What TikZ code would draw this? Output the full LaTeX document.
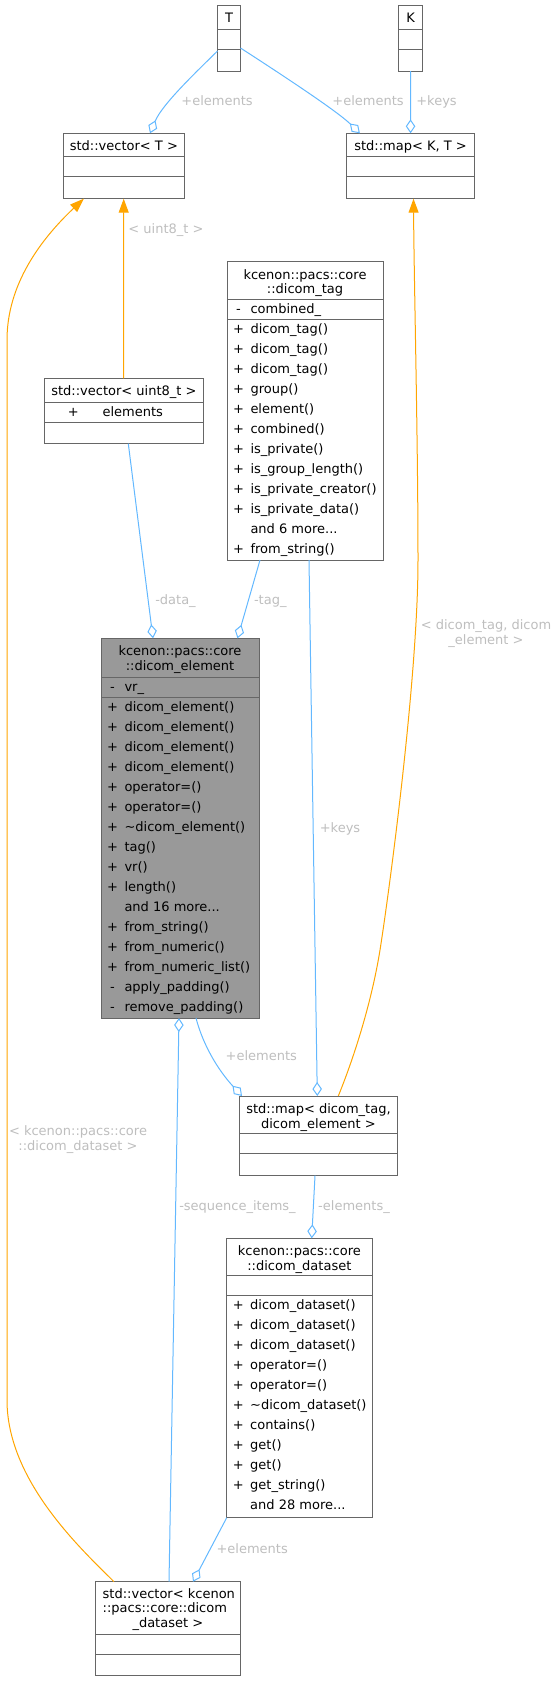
\documentclass[tikz,border=0pt]{standalone}
\usepackage{fontspec}
\setmainfont{DejaVu Sans}
\usetikzlibrary{arrows.meta,calc}
\definecolor{edgeblue}{HTML}{63B8FF}
\definecolor{edgeorange}{HTML}{FFA500}
\definecolor{lblgray}{HTML}{BEBEBE}
\definecolor{boxborder}{HTML}{666666}
\definecolor{curfill}{HTML}{999999}
\newcommand\clsbox[6]{\node[classbox, fill=#6, minimum width={(#4-#2)*1pt}, minimum height={(#5-#3)*1pt}, anchor=north west] (#1) at (#2,#3) {};}
\newcommand\hsep[2]{\draw[sepline] ($(#1.north west)+(0,#2)$) -- ($(#1.north east)+(0,#2)$);}
\newcommand\mdots{...}
\begin{document}
\begin{tikzpicture}[x=1pt,y=-1pt, font=\fontsize{13}{15}\selectfont,
  classbox/.style={draw=boxborder, line width=1pt, inner sep=0pt, outer sep=0pt},
  sepline/.style={draw=boxborder, line width=1pt},
  txt/.style={inner sep=0pt, outer sep=0pt, anchor=base},
  txtl/.style={inner sep=0pt, outer sep=0pt, anchor=base west},
  lbl/.style={inner sep=0pt, outer sep=0pt, anchor=base, text=lblgray},
  usage/.style={draw=edgeblue, line width=1pt, -{Diamond[open,length=14pt,width=9.5pt]}},
  usagerev/.style={draw=edgeblue, line width=1pt, {Diamond[open,length=14pt,width=9.5pt]}-},
  tmpl/.style={draw=edgeorange, line width=1pt, -{Triangle[length=14pt,width=10pt]}},
]
\useasboundingbox (0,0) rectangle (559,1681);

% ---------- boxes ----------
\clsbox{T}{217.5}{5}{240.5}{71}{white}
\hsep{T}{24}\hsep{T}{44}
\node[txt] (T-h) at ($(T.north)+(0,17)$) {T};

\clsbox{K}{398.6}{5}{422.6}{71}{white}
\hsep{K}{24}\hsep{K}{44}
\node[txt] (K-h) at ($(K.north)+(0,17)$) {K};

\clsbox{vecT}{63}{133.3}{184.7}{198.7}{white}
\hsep{vecT}{23.4}\hsep{vecT}{43.4}
\node[txt] (vecT-h) at ($(vecT.north)+(0,17)$) {std::vector< T >};

\clsbox{mapKT}{346.9}{133.3}{474.2}{198.7}{white}
\hsep{mapKT}{23.4}\hsep{mapKT}{43.4}
\node[txt] (mapKT-h) at ($(mapKT.north)+(0,17)$) {std::map< K, T >};

\clsbox{vecU8}{44.6}{378.3}{203.2}{443.7}{white}
\hsep{vecU8}{23.7}\hsep{vecU8}{43.7}
\node[txt] (vecU8-h) at ($(vecU8.north)+(0,17)$) {std::vector< uint8\_t >};
\node[txt] (vecU8-s) at ($(vecU8.north west)+(28.7,37.9)$) {+};
\node[txtl] (vecU8-m) at ($(vecU8.north west)+(58,37.9)$) {elements};

\clsbox{tag}{227}{261.5}{383}{560}{white}
\hsep{tag}{38}\hsep{tag}{58}
\node[txt] (tag-h1) at ($(tag.north)+(0,17.5)$) {kcenon::pacs::core};
\node[txt] (tag-h2) at ($(tag.north)+(0,32.2)$) {::dicom\_tag};
\node[txt] (tag-as) at ($(tag.north west)+(11.5,52.2)$) {-};
\node[txtl] (tag-a) at ($(tag.north west)+(23.5,52.2)$) {combined\_};
\foreach \s/\t [count=\i from 0] in {+/dicom\_tag(),+/dicom\_tag(),+/dicom\_tag(),+/group(),+/element(),+/combined(),+/is\_private(),+/is\_group\_length(),+/is\_private\_creator(),+/is\_private\_data(),/and 6 more\mdots,+/from\_string()}{
  \node[txt] (tag-s\i) at ($(tag.north west)+(11.5,72.2+20*\i)$) {\s};
  \node[txtl] (tag-m\i) at ($(tag.north west)+(23.5,72.2+20*\i)$) {\t};
}

\clsbox{elem}{101}{638.3}{259}{1018}{curfill}
\hsep{elem}{38.7}\hsep{elem}{58.7}
\node[txt] (elem-h1) at ($(elem.north)+(0,17.6)$) {kcenon::pacs::core};
\node[txt] (elem-h2) at ($(elem.north)+(0,32.3)$) {::dicom\_element};
\node[txt] (elem-as) at ($(elem.north west)+(11.5,52.9)$) {-};
\node[txtl] (elem-a) at ($(elem.north west)+(23.5,52.9)$) {vr\_};
\foreach \s/\t [count=\i from 0] in {+/dicom\_element(),+/dicom\_element(),+/dicom\_element(),+/dicom\_element(),+/operator=(),+/operator=(),+/\textasciitilde dicom\_element(),+/tag(),+/vr(),+/length(),/and 16 more\mdots,+/from\_string(),+/from\_numeric(),+/from\_numeric\_list(),-/apply\_padding(),-/remove\_padding()}{
  \node[txt] (elem-s\i) at ($(elem.north west)+(11.5,72.9+20*\i)$) {\s};
  \node[txtl] (elem-m\i) at ($(elem.north west)+(23.5,72.9+20*\i)$) {\t};
}

\clsbox{mapDT}{239.3}{1096}{397.6}{1175.7}{white}
\hsep{mapDT}{37.3}\hsep{mapDT}{57.3}
\node[txt] (mapDT-h1) at ($(mapDT.north)+(0,17.5)$) {std::map< dicom\_tag,};
\node[txt] (mapDT-h2) at ($(mapDT.north)+(0,32)$) {dicom\_element >};

\clsbox{ds}{226.7}{1238.3}{372}{1517.7}{white}
\hsep{ds}{37.4}\hsep{ds}{56.7}
\node[txt] (ds-h1) at ($(ds.north)+(0,17.5)$) {kcenon::pacs::core};
\node[txt] (ds-h2) at ($(ds.north)+(0,32)$) {::dicom\_dataset};
\foreach \s/\t [count=\i from 0] in {+/dicom\_dataset(),+/dicom\_dataset(),+/dicom\_dataset(),+/operator=(),+/operator=(),+/\textasciitilde dicom\_dataset(),+/contains(),+/get(),+/get(),+/get\_string(),/and 28 more\mdots}{
  \node[txt] (ds-s\i) at ($(ds.north west)+(11.5,70.9+20*\i)$) {\s};
  \node[txtl] (ds-m\i) at ($(ds.north west)+(23.5,70.9+20*\i)$) {\t};
}

\clsbox{vecDS}{95}{1581.7}{240.7}{1675.7}{white}
\hsep{vecDS}{52.3}\hsep{vecDS}{72.3}
\node[txtl] (vecDS-h1) at ($(vecDS.north west)+(7.7,16.7)$) {std::vector< kcenon};
\node[txtl] (vecDS-h2) at ($(vecDS.north west)+(7.7,31)$) {::pacs::core::dicom};
\node[txt] (vecDS-h3) at ($(vecDS.north)+(0,45.3)$) {\_dataset >};

% ---------- connectors ----------
\draw[usage] ($(T.north west)+(0,46)$) .. controls (192,76) and (162,105) .. ($(vecT.north west)+(87,0)$);
\node[lbl] (l-e1) at (217,105) {+elements};

\draw[usage] ($(T.north east)+(0,43)$) .. controls (290,80) and (338,112) .. ($(mapKT.north west)+(13,0)$);
\node[lbl] (l-e2) at (368,105) {+elements};

\draw[usage] (K.south) -- (mapKT.north);
\node[lbl] (l-e3) at (436.5,105) {+keys};

\draw[tmpl] ($(vecU8.north west)+(79.1,0)$) -- ($(vecT.south west)+(60.7,0)$);
\node[lbl] (l-e4) at (166,233) {< uint8\_t >};

\draw[tmpl] ($(mapDT.north west)+(99,0)$) .. controls (355,1055) and (372,1000) .. (380,950) .. controls (388,900) and (418,680) .. (418,560) .. controls (418,440) and (414,280) .. ($(mapKT.south west)+(66.6,0)$);
\node[lbl] (l-e5a) at (486,629.5) {< dicom\_tag, dicom};
\node[lbl] (l-e5b) at (486,644) {\_element >};

\draw[tmpl] ($(vecDS.north west)+(19,0)$) .. controls (80,1548) and (7,1480) .. (7,1400) -- (7,340) .. controls (7,285) and (40,240) .. ($(vecT.south west)+(20.8,0)$);
\node[lbl] (l-e6a) at (78,1135) {< kcenon::pacs::core};
\node[lbl] (l-e6b) at (78,1150) {::dicom\_dataset >};

\draw[usage] ($(vecU8.south west)+(83.7,0)$) -- ($(elem.north west)+(52,0)$);
\node[lbl] (l-e7) at (175.5,604) {-data\_};

\draw[usage] ($(tag.south west)+(33,0)$) -- ($(elem.north west)+(136.5,0)$);
\node[lbl] (l-e8) at (270.3,604) {-tag\_};

\draw[usage] ($(tag.south west)+(82,0)$) -- ($(mapDT.north west)+(78,0)$);
\node[lbl] (l-e9) at (340,832) {+keys};

\draw[usage] ($(elem.south west)+(95,0)$) .. controls (203,1045) and (218,1070) .. ($(mapDT.north west)+(2.7,0)$);
\node[lbl] (l-e10) at (261.3,1060.5) {+elements};

\draw[usage] ($(mapDT.south west)+(75.7,0)$) -- ($(ds.north west)+(85,0)$);
\node[lbl] (l-e11) at (354,1210) {-elements\_};

\draw[usage] (ds.south west) -- ($(vecDS.north west)+(98,0)$);
\node[lbl] (l-e12) at (252.2,1553) {+elements};

\draw[usagerev] ($(elem.south west)+(78,0)$) -- ($(vecDS.north west)+(74,0)$);
\node[lbl] (l-e13) at (237.5,1210) {-sequence\_items\_};
\end{tikzpicture}
\end{document}
